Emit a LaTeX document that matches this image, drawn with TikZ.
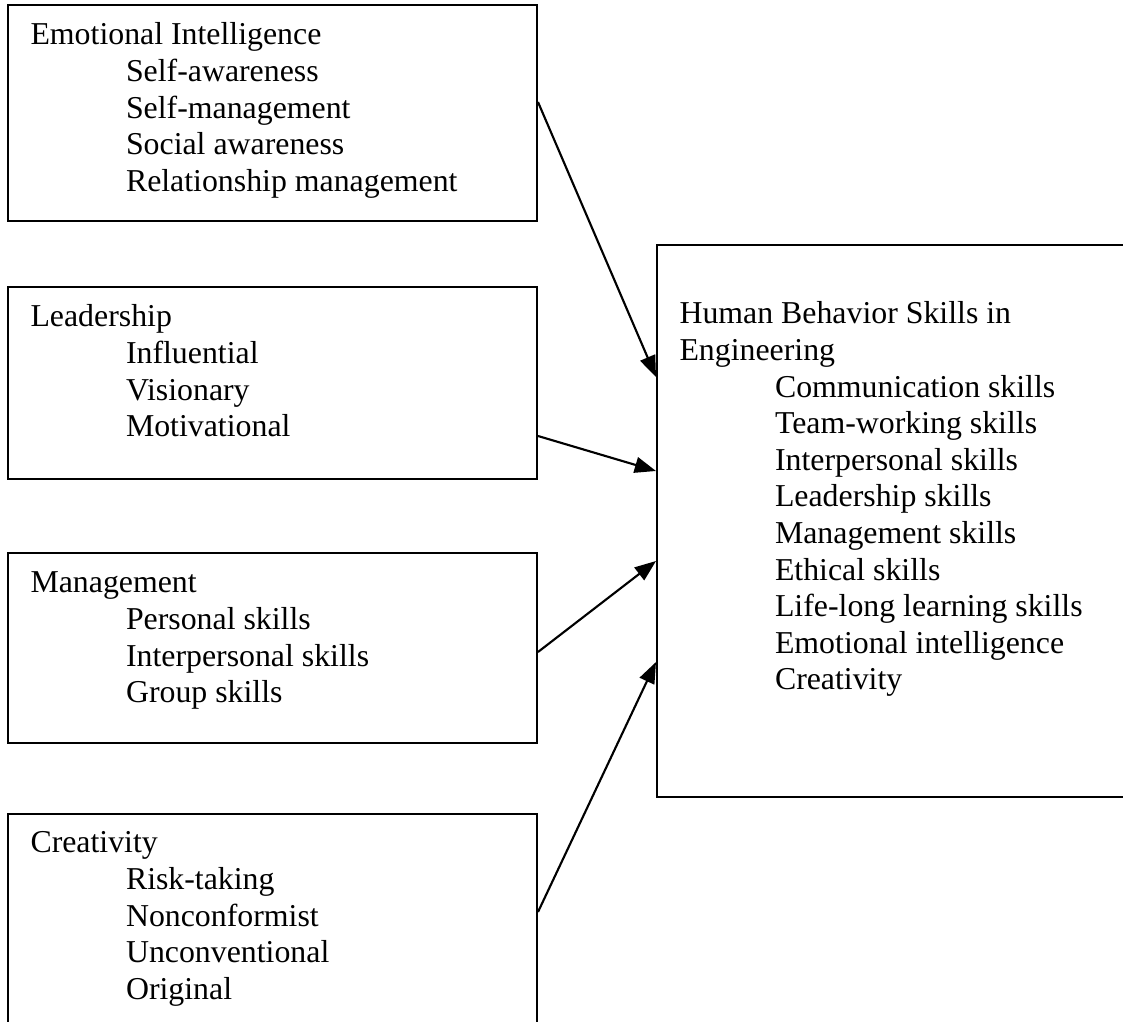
\documentclass[tikz,border=0pt]{standalone}
\usepackage{fontspec}
\setmainfont{Liberation Serif}
\usetikzlibrary{arrows.meta,fit,calc}
\begin{document}
\begin{tikzpicture}[x=0.377pt,y=-0.377pt,
  framebox/.style={draw, line width=0.75pt, inner sep=0pt},
  % texts are placed by the baseline of their last line
  txt/.style={anchor=base west, align=left, inner sep=0pt,
    font=\fontsize{12pt}{13.8pt}\selectfont},
  arr/.style={line width=0.8pt, -{Triangle[length=8pt,width=6pt]}}]
\clip (0,0) rectangle (1123,1022);
\fill[white] (0,0) rectangle (1123,1022);
\newcommand{\ind}{\hspace*{36pt}}
% source boxes
\node[framebox, fit={(8,5) (537,221)}] (b1) {};
\node[framebox, fit={(8,287) (537,479)}] (b2) {};
\node[framebox, fit={(8,553) (537,743)}] (b3) {};
\node[framebox, fit={(8,814) (537,1040)}] (b4) {};
% target box (runs past the right edge)
\node[framebox, fit={(657,245) (1140,797)}] (hb) {};
% texts
\node[txt] (t1) at (30,191.4) {Emotional Intelligence\\\ind Self-awareness\\\ind Self-management\\\ind Social awareness\\\ind Relationship management};
\node[txt] (t2) at (30,436.8) {Leadership\\\ind Influential\\\ind Visionary\\\ind Motivational};
\node[txt] (t3) at (30,702.8) {Management\\\ind Personal skills\\\ind Interpersonal skills\\\ind Group skills};
\node[txt] (t4) at (30,999.4) {Creativity\\\ind Risk-taking\\\ind Nonconformist\\\ind Unconventional\\\ind Original};
\node[txt] (th) at (679,690) {Human Behavior Skills in\\Engineering\\\ind Communication skills\\\ind Team-working skills\\\ind Interpersonal skills\\\ind Leadership skills\\\ind Management skills\\\ind Ethical skills\\\ind Life-long learning skills\\\ind Emotional intelligence\\\ind Creativity};
% connectors
\draw[arr] ($(b1.north east)+(0,98)$) -- ($(hb.north west)+(0,133)$);
\draw[arr] ($(b2.north east)+(0,150)$) -- ($(hb.north west)+(0,227)$);
\draw[arr] ($(b3.north east)+(0,100)$) -- ($(hb.north west)+(0,317)$);
\draw[arr] ($(b4.north east)+(0,99)$) -- ($(hb.north west)+(0,418)$);
\end{tikzpicture}
\end{document}
